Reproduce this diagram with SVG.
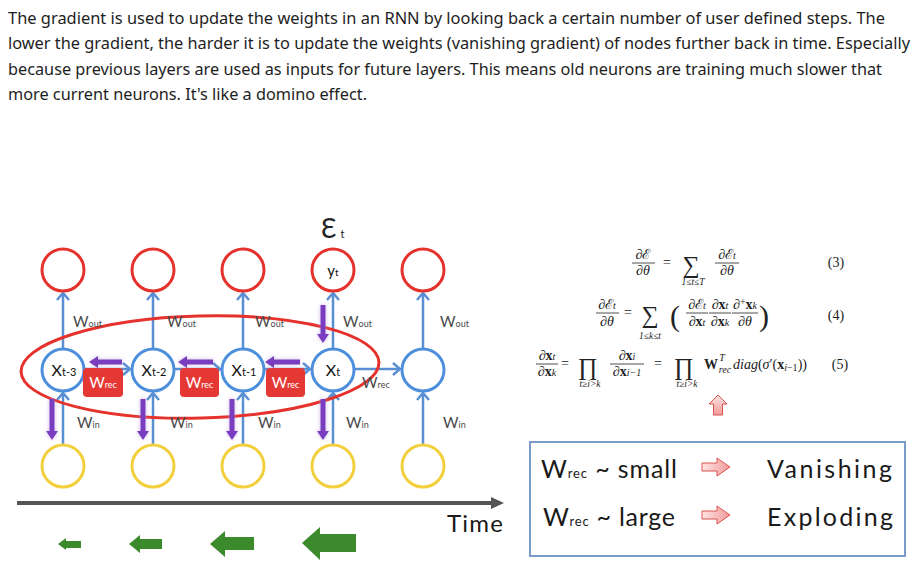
<svg xmlns="http://www.w3.org/2000/svg" width="923" height="574" viewBox="0 0 923 574">
<style>
.para{font-family:"Noto Sans","Open Sans",sans-serif;font-size:16.5px;fill:#1e1e1e}
.red{fill:#fff;stroke:#e5322c;stroke-width:3}
.blue{fill:#fff;stroke:#4d8fdc;stroke-width:3}
.yel{fill:#fff;stroke:#f2cf3c;stroke-width:3}
.conn{stroke:#5b8fd3;stroke-width:2.5;fill:none;marker-end:url(#bh)}
.purple{fill:#7a3dbf;filter:url(#glow)}
.green{fill:#3b8a2b}
.lbl{font-family:Lato,"Open Sans",sans-serif;fill:#4a4a4a;font-size:15px}
.sub{font-size:9px}
.nd{font-family:Lato,"Open Sans",sans-serif;fill:#111;font-size:16px;text-anchor:middle}
.box{fill:#e53834}
.wt{font-family:Lato,"Open Sans",sans-serif;fill:#fff;font-size:15px;text-anchor:middle}
.m{font-family:"Liberation Serif","DejaVu Serif",serif;fill:#222;text-anchor:middle}
.i{font-style:italic}
.b{font-weight:bold}
.s{font-size:10px}
.bar{stroke:#222;stroke-width:0.8}
.big{font-family:Lato,"Open Sans",sans-serif;font-size:25px;fill:#1a1a1a}
</style>
<defs>
<marker id="bh" markerUnits="userSpaceOnUse" markerWidth="14" markerHeight="14" viewBox="0 0 14 14" refX="12" refY="7" orient="auto">
<path d="M5,1 L12,7 L5,13" fill="none" stroke="#5b8fd3" stroke-width="2.5"/>
</marker>
<filter id="glow" x="-50%" y="-50%" width="200%" height="200%">
<feGaussianBlur in="SourceAlpha" stdDeviation="2" result="b"/>
<feFlood flood-color="#b28be0" flood-opacity="0.6"/>
<feComposite in2="b" operator="in" result="g"/>
<feMerge><feMergeNode in="g"/><feMergeNode in="SourceGraphic"/></feMerge>
</filter>
<linearGradient id="pg" x1="0" y1="0" x2="0" y2="1">
<stop offset="0" stop-color="#fde3e3"/>
<stop offset="1" stop-color="#f29a9a"/>
</linearGradient>
<linearGradient id="pgh" x1="0" y1="0" x2="1" y2="0">
<stop offset="0" stop-color="#fde3e3"/>
<stop offset="1" stop-color="#f29a9a"/>
</linearGradient>
</defs>
<rect width="923" height="574" fill="#fff"/>

<g id="paragraph">
<text class="para" x="8" y="24" textLength="877" lengthAdjust="spacingAndGlyphs">The gradient is used to update the weights in an RNN by looking back a certain number of user defined steps. The</text>
<text class="para" x="8" y="49" textLength="902" lengthAdjust="spacingAndGlyphs">lower the gradient, the harder it is to update the weights (vanishing gradient) of nodes further back in time. Especially</text>
<text class="para" x="8" y="75" textLength="874" lengthAdjust="spacingAndGlyphs">because previous layers are used as inputs for future layers. This means old neurons are training much slower that</text>
<text class="para" x="8" y="100" textLength="359" lengthAdjust="spacingAndGlyphs">more current neurons. It's like a domino effect.</text>
</g>

<g id="connectors">
<path class="conn" d="M63,349 V293"/>
<path class="conn" d="M153,349 V293"/>
<path class="conn" d="M243,349 V293"/>
<path class="conn" d="M333,349 V293"/>
<path class="conn" d="M423,349 V293"/>
<path class="conn" d="M63,445 V393"/>
<path class="conn" d="M153,445 V393"/>
<path class="conn" d="M243,445 V393"/>
<path class="conn" d="M333,445 V393"/>
<path class="conn" d="M423,445 V393"/>
<path class="conn" d="M85,369 H130"/>
<path class="conn" d="M175,369 H220"/>
<path class="conn" d="M265,369 H310"/>
<path class="conn" d="M355,369 H400"/>
</g>

<g id="time-axis">
<path d="M17,503 H494" stroke="#555" stroke-width="4"/>
<path d="M491,497 L504,503 L491,509 Z" fill="#555"/>
<text x="447" y="532" font-family="Lato,'Open Sans',sans-serif" font-size="24" fill="#1a1a1a" textLength="56">Time</text>
</g>

<g id="ellipse">
<ellipse cx="200" cy="367" rx="179" ry="51" transform="rotate(-1.5 200 367)" fill="none" stroke="#e5322c" stroke-width="3"/>
</g>

<g id="outputs">
<g id="y1"><circle class="red" cx="63" cy="270" r="21"/></g>
<g id="y2"><circle class="red" cx="153" cy="270" r="21"/></g>
<g id="y3"><circle class="red" cx="243" cy="270" r="21"/></g>
<g id="yt"><circle class="red" cx="333" cy="270" r="21"/><text class="nd" x="333" y="276" style="font-size:15px">y<tspan font-size="10">t</tspan></text></g>
<g id="y5"><circle class="red" cx="423" cy="270" r="21"/></g>
</g>

<g id="hidden">
<g id="xt-3"><circle class="blue" cx="63" cy="370" r="21"/><text class="nd" x="64" y="376">X<tspan font-size="11">t-3</tspan></text></g>
<g id="xt-2"><circle class="blue" cx="153" cy="370" r="21"/><text class="nd" x="154" y="376">X<tspan font-size="11">t-2</tspan></text></g>
<g id="xt-1"><circle class="blue" cx="243" cy="370" r="21"/><text class="nd" x="244" y="376">X<tspan font-size="11">t-1</tspan></text></g>
<g id="xt"><circle class="blue" cx="333" cy="370" r="21"/><text class="nd" x="333" y="376">X<tspan font-size="11">t</tspan></text></g>
<g id="x5"><circle class="blue" cx="423" cy="370" r="21"/></g>
</g>

<g id="inputs">
<g id="in1"><circle class="yel" cx="63" cy="466" r="21"/></g>
<g id="in2"><circle class="yel" cx="153" cy="466" r="21"/></g>
<g id="in3"><circle class="yel" cx="243" cy="466" r="21"/></g>
<g id="in4"><circle class="yel" cx="333" cy="466" r="21"/></g>
<g id="in5"><circle class="yel" cx="423" cy="466" r="21"/></g>
</g>

<g id="wrec-boxes">
<g id="wrec1"><rect class="box" x="83" y="368" width="40" height="29" rx="4"/><text class="wt" x="103" y="388">W<tspan class="sub">rec</tspan></text></g>
<g id="wrec2"><rect class="box" x="180" y="368" width="39" height="29" rx="4"/><text class="wt" x="199.5" y="388">W<tspan class="sub">rec</tspan></text></g>
<g id="wrec3"><rect class="box" x="266" y="368" width="39" height="29" rx="4"/><text class="wt" x="285.5" y="388">W<tspan class="sub">rec</tspan></text></g>
</g>

<g id="labels">
<text class="lbl" x="73" y="327">W<tspan class="sub">out</tspan></text>
<text class="lbl" x="167" y="327">W<tspan class="sub">out</tspan></text>
<text class="lbl" x="255" y="327">W<tspan class="sub">out</tspan></text>
<text class="lbl" x="343" y="327">W<tspan class="sub">out</tspan></text>
<text class="lbl" x="440" y="327">W<tspan class="sub">out</tspan></text>
<text class="lbl" x="77" y="428">W<tspan class="sub">in</tspan></text>
<text class="lbl" x="170" y="428">W<tspan class="sub">in</tspan></text>
<text class="lbl" x="258" y="428">W<tspan class="sub">in</tspan></text>
<text class="lbl" x="346" y="428">W<tspan class="sub">in</tspan></text>
<text class="lbl" x="443" y="428">W<tspan class="sub">in</tspan></text>
<text class="lbl" x="362" y="388">W<tspan class="sub">rec</tspan></text>
<text x="321" y="238" font-family="Lato,'DejaVu Sans',sans-serif" font-size="26" fill="#222">Ɛ<tspan font-size="11" dx="4">t</tspan></text>
</g>

<g id="gradient-arrows">
<path class="purple" d="M89,362 L98,356 L98,359.5 L122,359.5 L122,364.5 L98,364.5 L98,368 Z"/>
<path class="purple" d="M178,362 L187,356 L187,359.5 L213,359.5 L213,364.5 L187,364.5 L187,368 Z"/>
<path class="purple" d="M265,362 L274,356 L274,359.5 L300,359.5 L300,364.5 L274,364.5 L274,368 Z"/>
<path class="purple" d="M49.5,399 L54.5,399 L54.5,431 L58,431 L52,440 L46,431 L49.5,431 Z"/>
<path class="purple" d="M140.5,399 L145.5,399 L145.5,431 L149,431 L143,440 L137,431 L140.5,431 Z"/>
<path class="purple" d="M229.5,399 L234.5,399 L234.5,431 L238,431 L232,440 L226,431 L229.5,431 Z"/>
<path class="purple" d="M320.5,399 L325.5,399 L325.5,431 L329,431 L323,440 L317,431 L320.5,431 Z"/>
<path class="purple" d="M320.5,305 L325.5,305 L325.5,334 L329,334 L323,343 L317,334 L320.5,334 Z"/>
</g>

<g id="green-arrows">
<path class="green" d="M58,544 L66,538 L66,541 L81,541 L81,548 L66,548 L66,550 Z"/>
<path class="green" d="M129,544 L140,535 L140,539 L162,539 L162,549 L140,549 L140,553 Z"/>
<path class="green" d="M210,544 L225,531 L225,537 L254,537 L254,550 L225,550 L225,557 Z"/>
<path class="green" d="M302,543 L320,527 L320,534 L356,534 L356,552 L320,552 L320,560 Z"/>
</g>

<g id="equations" font-size="14">
<!-- eq 3 -->
<text class="m" x="643" y="259">∂ℰ</text>
<line class="bar" x1="632" y1="263" x2="655" y2="263"/>
<text class="m" x="643" y="275">∂<tspan class="i">θ</tspan></text>
<text class="m" x="667" y="267">=</text>
<text class="m" x="691" y="273" style="font-size:24px">∑</text>
<text class="m i" x="693" y="285" style="font-size:9.5px">1≤t≤T</text>
<text class="m" x="727" y="259">∂ℰ<tspan class="i s">t</tspan></text>
<line class="bar" x1="715" y1="263" x2="739" y2="263"/>
<text class="m" x="727" y="275">∂<tspan class="i">θ</tspan></text>
<text class="m" x="836" y="267">(3)</text>
<!-- eq 4 -->
<text class="m" x="607" y="309">∂ℰ<tspan class="i s">t</tspan></text>
<line class="bar" x1="596" y1="313" x2="619" y2="313"/>
<text class="m" x="607" y="326">∂<tspan class="i">θ</tspan></text>
<text class="m" x="628" y="317">=</text>
<text class="m" x="650" y="323" style="font-size:24px">∑</text>
<text class="m i" x="650" y="339" style="font-size:9.5px">1≤k≤t</text>
<text class="m" x="675" y="326" style="font-size:30px">(</text>
<text class="m" x="697" y="309">∂ℰ<tspan class="i s">t</tspan></text>
<line class="bar" x1="686" y1="313" x2="708" y2="313"/>
<text class="m" x="697" y="326">∂<tspan class="b">x</tspan><tspan class="i s">t</tspan></text>
<text class="m" x="720" y="309">∂<tspan class="b">x</tspan><tspan class="i s">t</tspan></text>
<line class="bar" x1="709" y1="313" x2="731" y2="313"/>
<text class="m" x="720" y="326">∂<tspan class="b">x</tspan><tspan class="i s">k</tspan></text>
<text class="m" x="745" y="309">∂<tspan class="s" dy="-4">+</tspan><tspan class="b" dy="4">x</tspan><tspan class="i s">k</tspan></text>
<line class="bar" x1="732" y1="313" x2="758" y2="313"/>
<text class="m" x="745" y="326">∂<tspan class="i">θ</tspan></text>
<text class="m" x="764" y="326" style="font-size:30px">)</text>
<text class="m" x="836" y="320">(4)</text>
<!-- eq 5 -->
<text class="m" x="547" y="360">∂<tspan class="b">x</tspan><tspan class="i s">t</tspan></text>
<line class="bar" x1="536" y1="364" x2="558" y2="364"/>
<text class="m" x="547" y="376">∂<tspan class="b">x</tspan><tspan class="i s">k</tspan></text>
<text class="m" x="565" y="368">=</text>
<text class="m" x="588" y="375" style="font-size:24px">∏</text>
<text class="m i" x="590" y="387" style="font-size:9.5px">t≥i&gt;k</text>
<text class="m" x="627" y="360">∂<tspan class="b">x</tspan><tspan class="i s">i</tspan></text>
<line class="bar" x1="610" y1="364" x2="644" y2="364"/>
<text class="m" x="627" y="376">∂<tspan class="b">x</tspan><tspan class="i s">i−1</tspan></text>
<text class="m" x="658" y="368">=</text>
<text class="m" x="684" y="375" style="font-size:24px">∏</text>
<text class="m i" x="687" y="387" style="font-size:9.5px">t≥i&gt;k</text>
<text class="m b" x="711" y="369">W</text>
<text class="m i s" x="722" y="361">T</text>
<text class="m i s" x="725" y="373">rec</text>
<text class="m" x="733" y="369" style="text-anchor:start"><tspan class="i">diag</tspan>(<tspan class="i">σ</tspan>′(<tspan class="b">x</tspan><tspan class="i s" dy="2">i</tspan><tspan class="s">−1</tspan><tspan dy="-2">))</tspan></text>
<text class="m" x="840" y="369">(5)</text>
<path d="M718,395 L727,404 L722.5,404 L722.5,415 L713.5,415 L713.5,404 L709,404 Z" fill="url(#pg)" stroke="#d9534f" stroke-width="1"/>
</g>

<g id="legend">
<rect x="530" y="442" width="375" height="114" fill="none" stroke="#7b9bc9" stroke-width="2"/>
<text class="big" x="541" y="478" textLength="136">W<tspan font-size="13">rec</tspan> ~ small</text>
<path d="M702,463 H717 V458 L730,467 L717,476 V471 H702 Z" fill="url(#pgh)" stroke="#d9534f" stroke-width="1"/>
<text class="big" x="767" y="478" textLength="125">Vanishing</text>
<text class="big" x="543" y="526" textLength="132">W<tspan font-size="13">rec</tspan> ~ large</text>
<path d="M702,511 H717 V506 L730,515 L717,524 V519 H702 Z" fill="url(#pgh)" stroke="#d9534f" stroke-width="1"/>
<text class="big" x="767" y="526" textLength="126">Exploding</text>
</g>
</svg>
